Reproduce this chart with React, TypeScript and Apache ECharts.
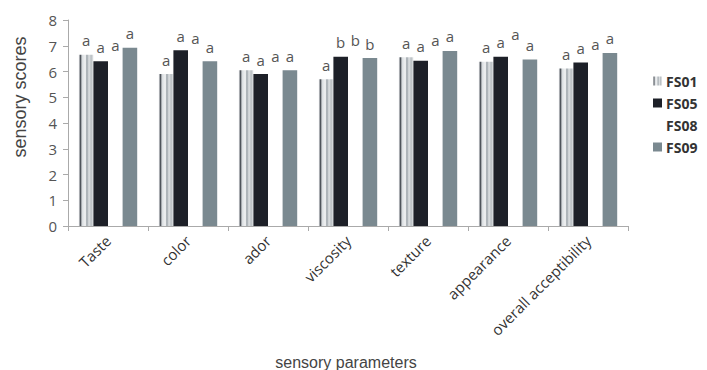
import React, { useEffect, useRef } from "react";
import * as echarts from "echarts";

const categories = ["Taste", "color", "ador", "viscosity", "texture", "appearance", "overall acceptibility"];
const seriesNames = ["FS01", "FS05", "FS08", "FS09"];
const fs01 = [6.65, 5.9, 6.05, 5.7, 6.55, 6.38, 6.12];
const fs05 = [6.4, 6.83, 5.9, 6.57, 6.42, 6.57, 6.35];
const fs08 = [6.45, 6.75, 6.05, 6.65, 6.65, 6.9, 6.5];
const fs09 = [6.92, 6.4, 6.05, 6.52, 6.8, 6.47, 6.72];
const letters01 = ["a", "a", "a", "a", "a", "a", "a"];
const letters05 = ["a", "a", "a", "b", "a", "a", "a"];
const letters08 = ["a", "a", "a", "b", "a", "a", "a"];
const letters09 = ["a", "a", "a", "b", "a", "a", "a"];
const yTicks = [0, 1, 2, 3, 4, 5, 6, 7, 8];

export default function App() {
  const ref = useRef<HTMLDivElement>(null);
  useEffect(() => {
    if (!ref.current) return;
    const chart = echarts.init(ref.current, null, { renderer: "svg" });
    const stripe = new echarts.graphic.LinearGradient(0, 0, 1, 0, [
      { offset: 0, color: "#e6e8ea" },
      { offset: 0.12, color: "#4a4f56" },
      { offset: 0.22, color: "#d8dcdf" },
      { offset: 0.45, color: "#f2f3f4" },
      { offset: 0.55, color: "#9aa2a8" },
      { offset: 0.7, color: "#dfe2e4" },
      { offset: 0.85, color: "#b8bec2" },
      { offset: 1, color: "#e8eaec" },
    ]);
    const lbl = (arr: string[]) => ({
      show: true,
      position: "top" as const,
      distance: 7,
      fontSize: 15,
      color: "#555",
      fontFamily: "Open Sans",
      formatter: (p: any) => arr[p.dataIndex],
    });
    const datas = [fs01, fs05, fs08, fs09];
    const lets = [letters01, letters05, letters08, letters09];
    const colors = [stripe, "#1d2028", "#ffffff", "#7a8990"];
    chart.setOption({
      animation: false,
      backgroundColor: "#ffffff",
      grid: { left: 68, right: 79, top: 20, bottom: 144 },
      legend: {
        orient: "vertical",
        left: 648,
        top: 69,
        itemWidth: 9,
        itemHeight: 9,
        itemGap: 8,
        icon: "rect",
        data: seriesNames,
        textStyle: { fontSize: 14, fontWeight: "bold", color: "#333", fontFamily: "Open Sans", padding: [0, 0, 0, -1] },
      },
      xAxis: {
        type: "category",
        data: categories,
        axisLine: { lineStyle: { color: "#aaa" } },
        axisTick: { show: true, length: 5, lineStyle: { color: "#aaa" } },
        axisLabel: { rotate: 45, fontSize: 15, color: "#333", fontFamily: "Open Sans", margin: 12, interval: 0 },
      },
      yAxis: {
        type: "value",
        min: 0,
        max: 8,
        interval: 1,
        splitLine: { show: false },
        axisLine: { show: true, lineStyle: { color: "#aaa" } },
        axisTick: { show: true, length: 5, lineStyle: { color: "#aaa" } },
        axisLabel: { fontSize: 15, color: "#555", fontFamily: "Open Sans", margin: 11, formatter: (v: number) => (yTicks.includes(v) ? String(v) : "") },
      },
      graphic: [
        {
          type: "text",
          x: 20,
          y: 97,
          rotation: Math.PI / 2,
          style: { text: "sensory scores", fontSize: 18, fill: "#444", fontFamily: "Liberation Sans", align: "center", verticalAlign: "middle" },
        },
        {
          type: "text",
          x: 346,
          y: 362,
          style: { text: "sensory parameters", fontSize: 16, fill: "#444", fontFamily: "Liberation Sans", align: "center", verticalAlign: "middle" },
        },
      ],
      series: seriesNames.map((name, i) => ({
        name,
        type: "bar",
        data: datas[i],
        barGap: "0%",
        barCategoryGap: "27%",
        itemStyle: { color: colors[i] },
        label: lbl(lets[i]),
      })),
    });
    return () => chart.dispose();
  }, []);
  return <div ref={ref} style={{ width: 707, height: 370, position: "absolute", left: 0, top: 0 }} />;
}
